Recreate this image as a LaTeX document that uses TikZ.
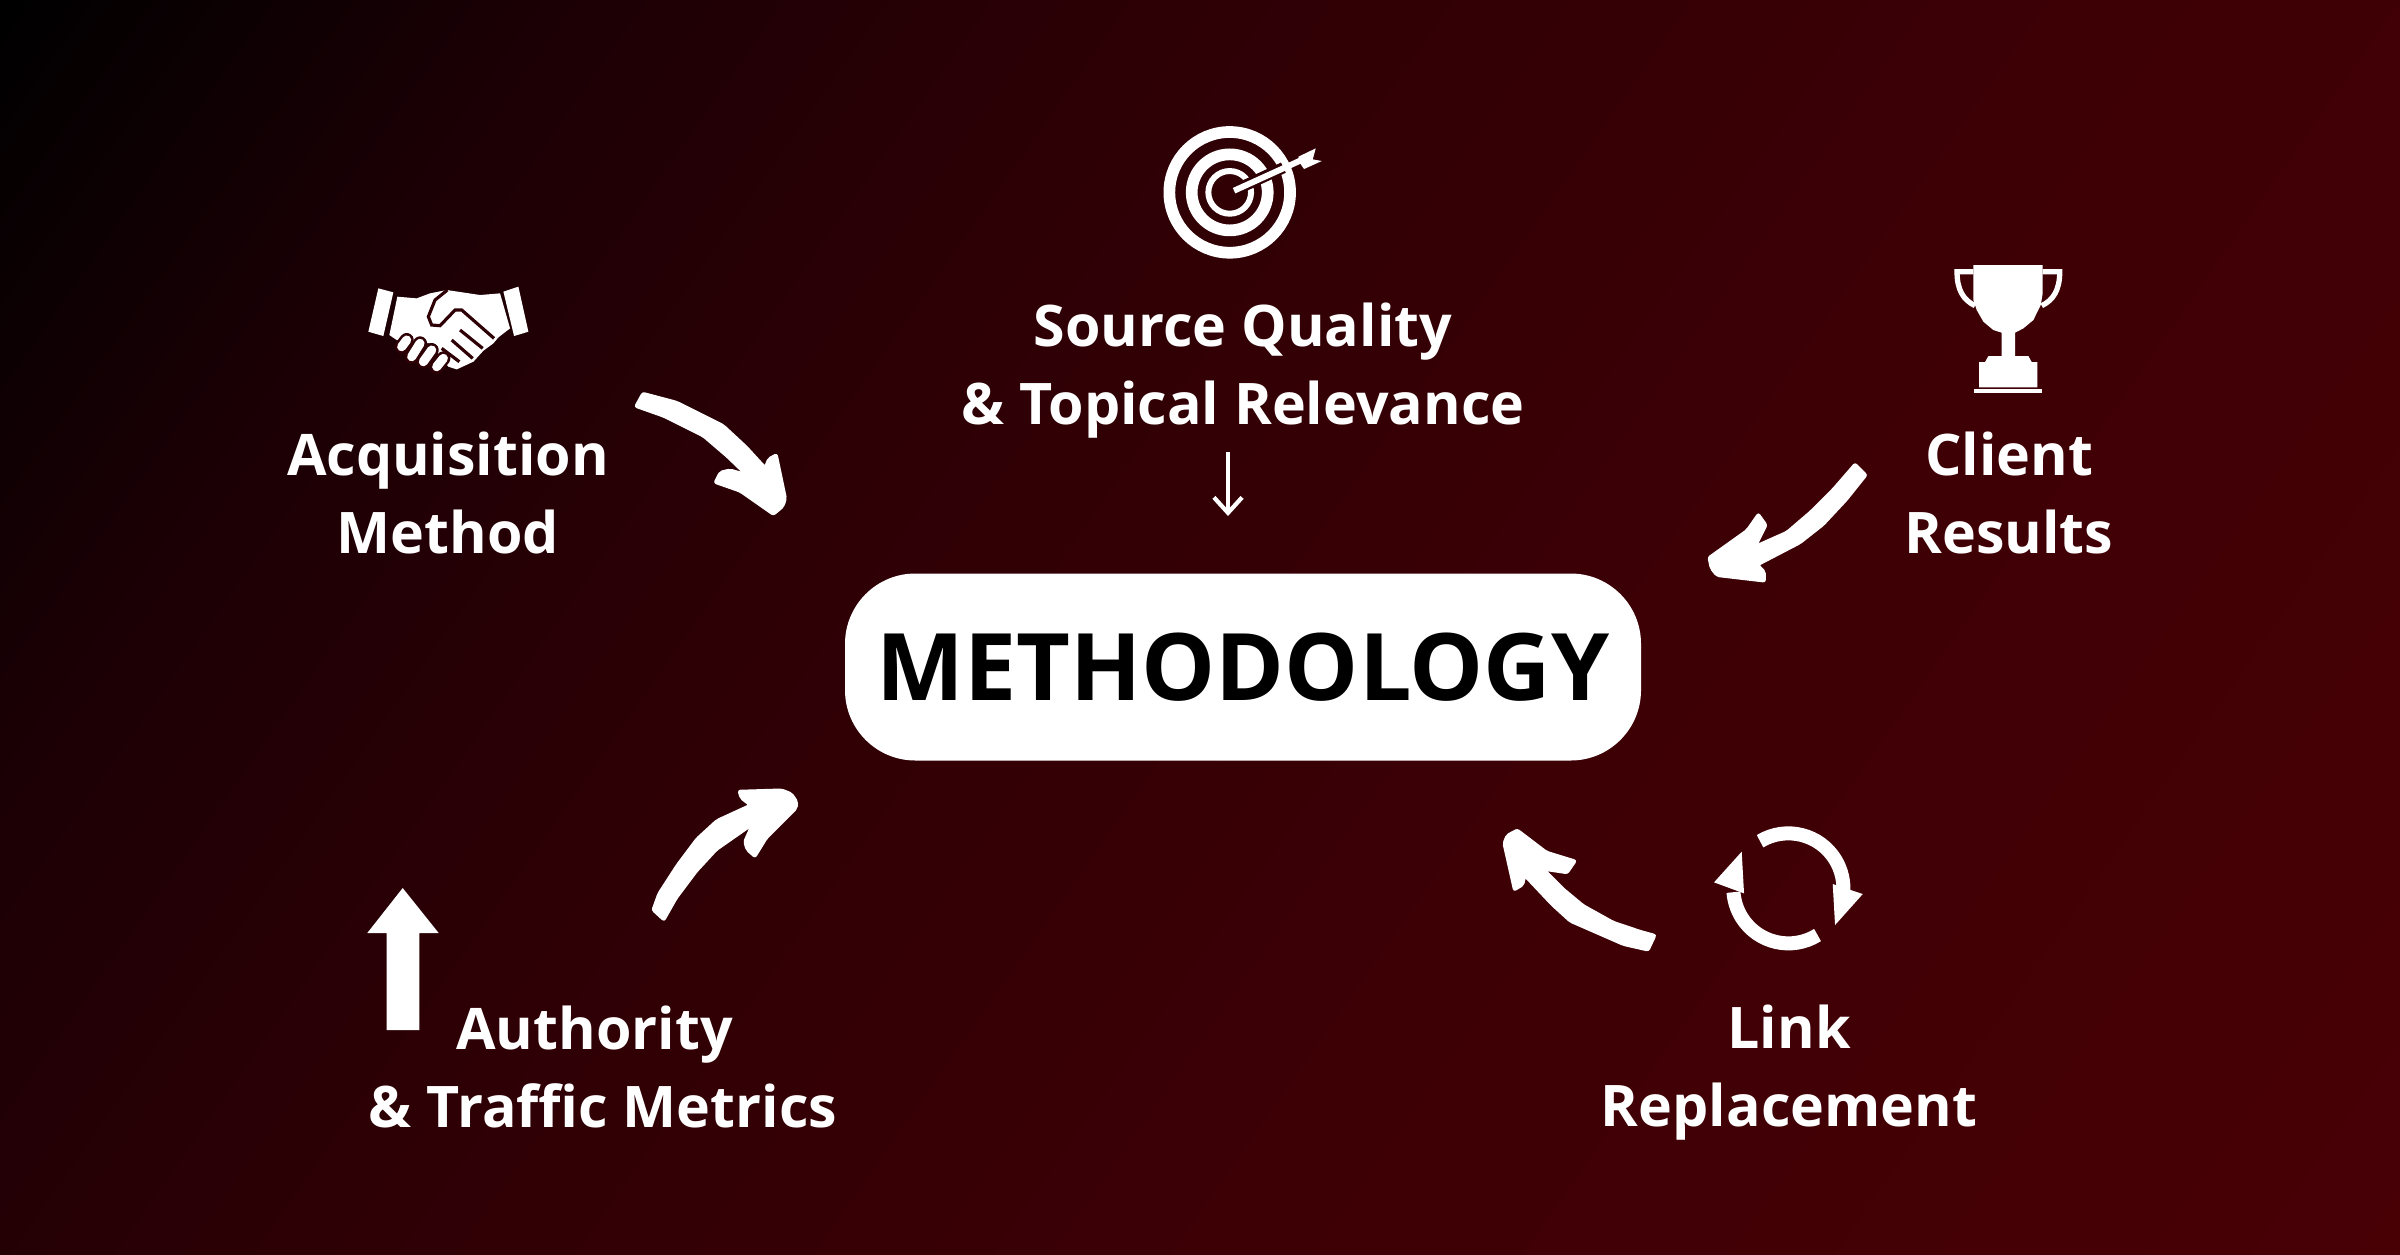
\documentclass[tikz,border=0pt]{standalone}
\usepackage{fontspec}
\usetikzlibrary{arrows.meta}
\setmainfont{Open Sans}
\definecolor{bgmid}{HTML}{2E0005}
\pgfdeclarehorizontalshading{bgramp}{100bp}{rgb(0bp)=(0,0,0); rgb(26.2bp)=(0,0,0); rgb(33.8bp)=(0.102,0,0.02); rgb(43.3bp)=(0.176,0,0.02);
  rgb(57.2bp)=(0.239,0,0.02); rgb(73.8bp)=(0.282,0,0.02); rgb(100bp)=(0.282,0,0.02)}
\tikzset{
  itemlabel/.style={text=white,font=\bfseries\fontsize{16.3pt}{22.2pt}\selectfont,align=center,inner sep=0pt},
  zoomed/.style={x=0.03333mm,y=-0.03333mm},
  brush/.style={fill=white,draw=white,line width=0.5pt,rounded corners=0.6pt},
}
\begin{document}
\begin{tikzpicture}[x=0.01cm,y=-0.01cm]
 \useasboundingbox (0,0) rectangle (2400,1254);
 \begin{scope}[transform canvas={rotate around={-35:(1200,627)}}]
  \shade [shading=bgramp] (-208,-700) rectangle (2608,1950);
 \end{scope}
 % hub
 \node [fill=white,rounded corners=20pt,minimum width=796*0.01cm,minimum height=187*0.01cm,inner sep=0pt,
   font=\bfseries\fontsize{26.5pt}{30pt}\selectfont,text=black] (hub) at (1243,667) {METHODOLOGY};
 % labels
 \node [itemlabel] (source) at (1243,371) {Source Quality\\\& Topical Relevance};
 \node [itemlabel] (acquisition) at (448,493) {Acquisition\\Method};
 \node [itemlabel] (client) at (2009,493) {Client\\Results};
 \node [itemlabel] (authority) at (603,1067) {\hspace*{-4.8pt}Authority\\\& Traffic Metrics};
 \node [itemlabel] (link) at (1789,1073) {Link\\Replacement};
 % thin arrow
 \coordinate (thintail) at (1228,452);
 \coordinate (thinhead) at (1228,516);
 \draw [white,line width=1.2pt,-{Straight Barb[length=4.4pt,width=8pt]}] (thintail) -- (thinhead);
 % target
 \begin{scope}[shift={(1120,100)},zoomed]
  \draw [white,line width=3.33pt] (329,277) circle (181);
  \draw [white,line width=3.33pt] (329,277) circle (114);
  \draw [white,line width=1.7pt] (329,277) circle (64);
  \draw [bgmid,line width=3.2pt] (345,270) -- (490,203);
  \draw [white,line width=1.7pt] (342,272) -- (540,182);
  \fill [white] (535,170) -- (587,145) -- (578,178) -- (605,183) -- (552,207) -- (540,190) -- cycle;
 \end{scope}
 % handshake
 \begin{scope}[shift={(340,260)},zoomed]
  \fill [white] (115,85) -- (160,97) -- (130,228) -- (85,215) -- cycle;
  \fill [white] (490,95) -- (535,80) -- (565,215) -- (522,228) -- cycle;
  \fill [white] (172,110) -- (230,115) -- (270,100) -- (320,90) -- (420,105) -- (480,100) -- (510,205)
    -- (475,232) -- (460,250) -- (430,272) -- (400,305) -- (350,328) -- (325,320) -- (270,250) -- (170,240) -- (148,225) -- cycle;
  \draw [bgmid,line width=0.9pt] (322,90) -- (285,120) -- (265,170) -- (275,195) -- (300,197) -- (345,150) -- (365,150) -- (462,235);
  \draw [bgmid,line width=0.9pt] (360,210) -- (428,265);
  \draw [bgmid,line width=0.9pt] (335,240) -- (398,295);
  \draw [bgmid,line width=0.9pt] (305,265) -- (358,305);
  \draw [bgmid,line width=4pt,line cap=round] (185,260) -- (200,240);
  \draw [bgmid,line width=4pt,line cap=round] (215,290) -- (240,250);
  \draw [bgmid,line width=4pt,line cap=round] (250,305) -- (275,270);
  \draw [bgmid,line width=4pt,line cap=round] (290,320) -- (310,295);
  \draw [white,line width=2.6pt,line cap=round] (185,260) -- (200,240);
  \draw [white,line width=2.6pt,line cap=round] (215,290) -- (240,250);
  \draw [white,line width=2.6pt,line cap=round] (250,305) -- (275,270);
  \draw [white,line width=2.6pt,line cap=round] (290,320) -- (310,295);
 \end{scope}
 % trophy
 \begin{scope}[shift={(1920,250)},zoomed]
  \fill [white] (160,45) -- (368,45) -- (368,130) -- (362,165) -- (340,210) -- (310,235) -- (285,248) -- (285,318)
    -- (325,318) -- (335,336) -- (352,336) -- (352,412) -- (177,412) -- (177,336) -- (195,336) -- (205,318) -- (245,318)
    -- (245,248) -- (220,240) -- (190,215) -- (170,180) -- (160,150) -- cycle;
  \fill [white] (162,416) rectangle (367,428);
  \draw [white,line width=1.5pt] (160,65) -- (111,65) .. controls (111,120) and (130,150) .. (165,167);
  \draw [white,line width=1.5pt] (368,65) -- (419,65) .. controls (419,120) and (400,150) .. (365,167);
 \end{scope}
 % refresh
 \begin{scope}[shift={(1680,800)},zoomed]
  \draw [white,line width=3.98pt] (325,265) ++(-121:165) arc (-121:5:165);
  \draw [white,line width=3.98pt] (325,265) ++(58:165) arc (58:176:165);
  \fill [white] (458,252) -- (548,282) -- (465,375) -- cycle;
  \fill [white] (102,247) -- (185,155) -- (192,280) -- cycle;
 \end{scope}
 % up arrow
 \fill [white] (402.7,888) -- (438.7,933) -- (419.3,933) -- (419.3,1030) -- (386.7,1030) -- (386.7,933) -- (367.3,933) -- cycle;
 % curved arrows
 \begin{scope}[shift={(620,370)},zoomed]
  \filldraw [brush] (45,110) -- (68,68) -- (170,95) -- (310,165) -- (380,230) -- (435,290) -- (445,265) -- (470,252)
    -- (498,385) -- (490,410) -- (460,435) -- (360,365) -- (283,338) -- (300,305) -- (330,298) -- (372,310)
    -- (320,260) -- (250,200) -- (130,140) -- cycle;
 \end{scope}
 \begin{scope}[shift={(1690,450)},zoomed]
  \filldraw [brush] (495,40) -- (530,75) -- (470,150) -- (400,225) -- (330,280) -- (205,345) -- (225,365) -- (225,395)
    -- (80,378) -- (62,355) -- (55,322) -- (170,240) -- (205,190) -- (230,225) -- (200,285) -- (290,245)
    -- (360,185) -- (430,115) -- cycle;
 \end{scope}
 \begin{scope}[shift={(1480,810)},zoomed]
  \filldraw [brush] (527,375) -- (505,422) -- (430,405) -- (350,370) -- (270,335) -- (215,285) -- (135,200) -- (130,225)
    -- (102,242) -- (70,100) -- (80,75) -- (112,58) -- (200,125) -- (288,152) -- (262,190) -- (195,180)
    -- (250,235) -- (310,285) -- (400,335) -- (480,362) -- cycle;
 \end{scope}
 \begin{scope}[shift={(640,770)},zoomed]
  \filldraw [brush] (37,420) -- (72,452) -- (110,385) -- (170,305) -- (230,240) -- (333,168) -- (312,215) -- (320,240)
    -- (345,262) -- (380,205) -- (470,115) -- (472,95) -- (455,70) -- (425,58) -- (295,62) -- (302,85) -- (328,105)
    -- (230,150) -- (170,205) -- (110,285) -- (55,370) -- cycle;
 \end{scope}
\end{tikzpicture}
\end{document}
